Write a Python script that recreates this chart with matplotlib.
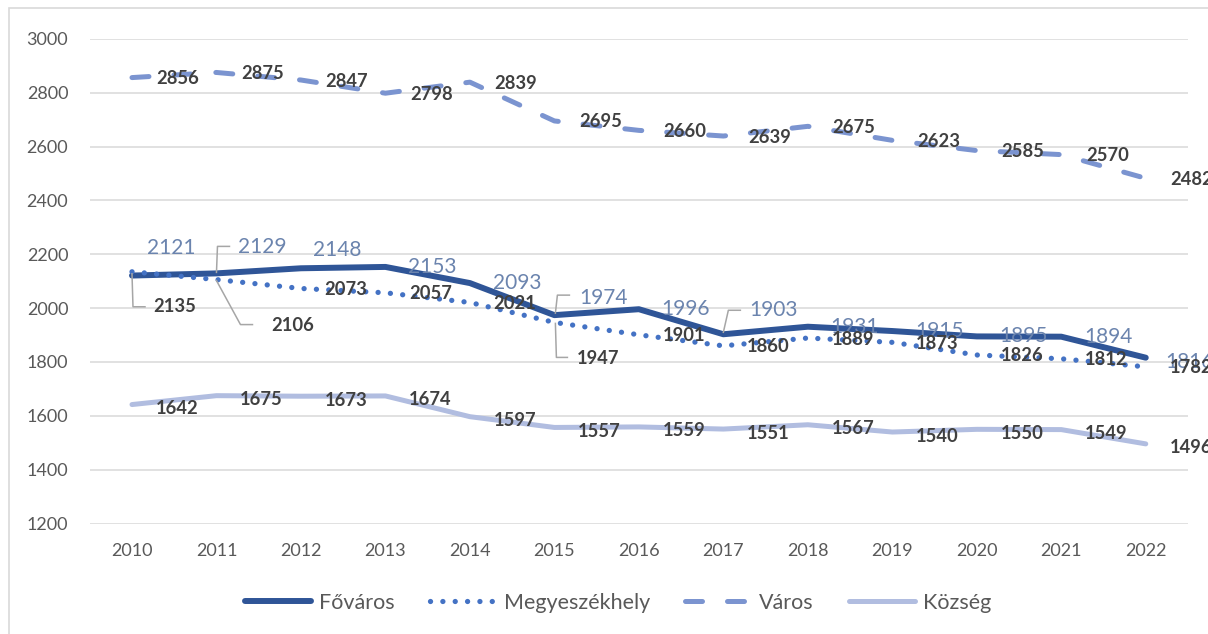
import matplotlib
matplotlib.use("Agg")
import matplotlib.pyplot as plt
from matplotlib.transforms import IdentityTransform
from matplotlib.patches import Rectangle

# ---- data ----
years = ["2010", "2011", "2012", "2013", "2014", "2015", "2016",
         "2017", "2018", "2019", "2020", "2021", "2022"]
fovaros = [2121, 2129, 2148, 2153, 2093, 1974, 1996, 1903, 1931, 1915, 1895, 1894, 1816]
megyeszekhely = [2135, 2106, 2073, 2057, 2021, 1947, 1901, 1860, 1889, 1873, 1826, 1812, 1782]
varos = [2856, 2875, 2847, 2798, 2839, 2695, 2660, 2639, 2675, 2623, 2585, 2570, 2482]
kozseg = [1642, 1675, 1673, 1674, 1597, 1557, 1559, 1551, 1567, 1540, 1550, 1549, 1496]
series_names = ["Főváros", "Megyeszékhely", "Város", "Község"]
yticks = [1200, 1400, 1600, 1800, 2000, 2200, 2400, 2600, 2800, 3000]

FONT = ["Lato", "DejaVu Sans"]
plt.rcParams["font.family"] = FONT

W, H = 1208, 634
fig = plt.figure(figsize=(W / 100, H / 100), dpi=100)
ax = fig.add_axes([89.75 / W, 1 - 523.6 / H, (1188 - 89.75) / W, (523.6 - 38.8) / H])

x = list(range(len(years)))
c_fo = "#2F5597"
c_me = "#4472C4"
c_va = "#7B94D0"
c_ko = "#B1BDE0"

ax.plot(x, fovaros, color=c_fo, lw=4.3, solid_capstyle="round", solid_joinstyle="round",
        label=series_names[0], zorder=3)
ax.plot(x, megyeszekhely, color=c_me, lw=3.8, linestyle=(0, (0.01, 2.33)),
        dash_capstyle="round", label=series_names[1], zorder=4)
ax.plot(x, varos, color=c_va, lw=3.6, linestyle=(0, (3.4, 5.0)),
        dash_capstyle="round", label=series_names[2], zorder=3)
ax.plot(x, kozseg, color=c_ko, lw=3.6, solid_capstyle="round", solid_joinstyle="round",
        label=series_names[3], zorder=3)

ax.set_xlim(-0.5, len(years) - 0.5)
ax.set_ylim(1200, 3000)
ax.set_yticks(yticks)
ax.set_xticks(x)
ax.set_xticklabels(years)
ax.grid(axis="y", color="#D9D9D9", lw=1.1)
ax.set_axisbelow(True)
for s in ax.spines.values():
    s.set_visible(False)
ax.tick_params(axis="both", length=0, labelsize=13, labelcolor="#595959")
ax.tick_params(axis="y", pad=15.5)
ax.tick_params(axis="x", pad=14)

# ---- data labels ----
dark = "#404040"
fo_col = "#6B84AE"
fig.canvas.draw()

def px(i, v):
    return ax.transData.transform((i, v))

def leader(i, v, pts):
    p = px(i, v)
    xs = [p[0] + a for a, b in pts]
    ys = [p[1] + b for a, b in pts]
    ax.add_line(plt.Line2D(xs, ys, transform=IdentityTransform(), color="#A6A6A6",
                           lw=1.1, zorder=6, clip_on=False))

def label(i, v, dx, dy, color, size, weight):
    ax.annotate(str(v), xy=(i, v), xytext=(dx, dy), textcoords="offset pixels",
                ha="center", va="center", color=color, fontsize=size,
                fontweight=weight, zorder=7, annotation_clip=False)

# Főváros labels (light, larger)
fo_off = {1: (46, 26), 2: (36, 18), 5: (49, 17), 7: (50, 24), 0: (39, 28), 12: (44, -4)}
for i, v in enumerate(fovaros):
    dx, dy = fo_off.get(i, (47, 0))
    label(i, v, dx, dy, fo_col, 15, "normal")
leader(1, fovaros[1], [(0, 1), (1, 27), (13, 27)])
leader(5, fovaros[5], [(1, 2), (3, 20), (15, 20)])
leader(7, fovaros[7], [(0, 2), (5, 24), (17, 24)])

# Megyeszékhely labels
me_off = {0: (43, -35), 1: (76, -46), 5: (44, -36)}
for i, v in enumerate(megyeszekhely):
    dx, dy = me_off.get(i, (45, -1))
    label(i, v, dx, dy, dark, 13.2, "bold")
leader(0, megyeszekhely[0], [(0, -2), (1, -35), (13, -35)])
leader(1, megyeszekhely[1], [(0, -1), (24, -45), (36, -45)])
leader(5, megyeszekhely[5], [(1, -1), (2, -35), (13, -35)])

# Város labels
for i, v in enumerate(varos):
    label(i, v, 46, -1, dark, 13.2, "bold")

# Község labels
for i, v in enumerate(kozseg):
    label(i, v, 45, -4, dark, 13.2, "bold")

# ---- legend ----
leg = fig.legend(loc="center", bbox_to_anchor=(618 / W, 1 - 603 / H), ncol=4,
                 frameon=False, fontsize=15.5, handlelength=3.07, handletextpad=0.37,
                 columnspacing=1.63, borderaxespad=0)
for t in leg.get_texts():
    t.set_color("#595959")

# ---- chart border (left & top visible, rest outside the picture) ----
fig.patches.append(Rectangle((8.5 / W, -10 / H), 1300 / W, (634 - 8 + 10) / H,
                             transform=fig.transFigure, fill=False,
                             edgecolor="#D9D9D9", lw=1.2))

fig.savefig("out.png", dpi=100)
